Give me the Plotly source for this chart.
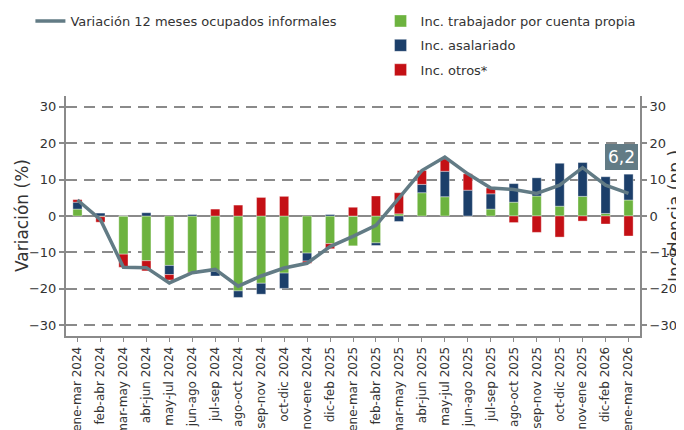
import plotly.graph_objects as go

categories = ["ene-mar 2024", "feb-abr 2024", "mar-may 2024", "abr-jun 2024", "may-jul 2024",
              "jun-ago 2024", "jul-sep 2024", "ago-oct 2024", "sep-nov 2024", "oct-dic 2024",
              "nov-ene 2024", "dic-feb 2025", "ene-mar 2025", "feb-abr 2025", "mar-may 2025",
              "abr-jun 2025", "may-jul 2025", "jun-ago 2025", "jul-sep 2025", "ago-oct 2025",
              "sep-nov 2025", "oct-dic 2025", "nov-ene 2025", "dic-feb 2026", "ene-mar 2026"]

variacion = [4.4, -1.0, -14.1, -14.2, -18.4, -15.6, -14.7, -19.3, -16.5, -14.3,
             -13.0, -8.4, -5.6, -2.6, 4.9, 12.5, 16.2, 11.6, 7.7, 7.3,
             6.2, 8.5, 13.3, 8.5, 6.2]
cuenta_propia = [1.9, -0.2, -10.5, -12.3, -13.6, -15.5, -15.2, -20.6, -18.5, -15.7,
                 -10.2, -7.6, -8.2, -7.4, 0.6, 6.4, 5.3, 0.0, 1.9, 3.8,
                 5.5, 2.7, 5.4, 0.7, 4.4]
asalariado = [1.9, 0.8, 0.0, 0.9, -2.5, 0.4, -1.3, -1.8, -3.0, -4.2,
              -2.2, 0.4, 0.0, -0.7, -1.5, 2.3, 7.0, 7.1, 4.2, 5.1,
              5.0, 11.8, 9.3, 10.1, 7.1]
otros = [0.7, -1.5, -3.6, -2.8, -1.5, -0.4, 1.9, 3.0, 5.1, 5.4,
         -0.6, -1.4, 2.4, 5.5, 5.8, 3.8, 3.4, 4.5, 1.6, -1.8,
         -4.5, -5.8, -1.4, -2.2, -5.5]
ticks = [-30, -20, -10, 0, 10, 20, 30]

FONT = "DejaVu Sans"
TXT = "#333333"
AX = "#8a8a8a"

fig = go.Figure()
bar_specs = [("Inc. trabajador por cuenta propia", cuenta_propia, "#6db33f"),
             ("Inc. asalariado", asalariado, "#1c3f6a"),
             ("Inc. otros*", otros, "#c41015")]
for i, (name, vals, col) in enumerate(bar_specs):
    fig.add_trace(go.Bar(x=categories, y=vals, name=name, marker_color=col,
                         marker_line_width=0.6, marker_line_color="rgba(255,255,255,0.6)",
                         width=0.4, legend="legend2", legendgroup=f"g{i}",
                         yaxis="y"))
fig.add_trace(go.Scatter(x=categories, y=variacion, name="Variación 12 meses ocupados informales",
                         mode="lines", line=dict(color="#627b85", width=3.5),
                         legend="legend", yaxis="y2"))

axis_common = dict(range=[-33, 33], tickvals=ticks, ticks="outside", ticklen=5,
                   tickwidth=1.5, tickcolor=AX, showline=True, linecolor=AX, linewidth=2,
                   automargin=False,
                   tickfont=dict(size=13, color=TXT, family=FONT))

# page body adds an 8px offset; figure sized to fill the rest of the window
W, H = 676, 422
L, R, T, B = 58, 44, 88, 94
PW = W - L - R

fig.update_layout(
    width=W, height=H,
    margin=dict(l=L, r=R, t=T, b=B, autoexpand=False),
    plot_bgcolor="white", paper_bgcolor="white",
    barmode="relative", bargap=0.5,
    font=dict(family=FONT, color=TXT, size=13),
    xaxis=dict(type="category", tickangle=-90, ticks="outside", ticklen=4, tickcolor=AX,
               showline=True, linecolor=AX, linewidth=2, automargin=False,
               tickfont=dict(size=12, color=TXT, family=FONT), range=[-0.5, 24.5]),
    yaxis=dict(**axis_common, showgrid=True, gridcolor=AX, gridwidth=2, griddash="11px,7px",
               zeroline=True, zerolinecolor=AX, zerolinewidth=2),
    yaxis2=dict(**axis_common, overlaying="y", side="right", showgrid=False, zeroline=False),
    legend=dict(x=-0.062, y=1.375, xanchor="left", yanchor="top", bgcolor="rgba(0,0,0,0)",
                font=dict(size=13, color=TXT, family=FONT)),
    legend2=dict(x=0.548, y=1.375, xanchor="left", yanchor="top", bgcolor="rgba(0,0,0,0)",
                 tracegroupgap=4.5, font=dict(size=13, color=TXT, family=FONT)),
    showlegend=True,
)

fig.add_annotation(x=categories[-1], y=variacion[-1], xref="x", yref="y2",
                   text=str(variacion[-1]).replace(".", ","), showarrow=False,
                   yshift=36, xshift=-7, bgcolor="#627b85", bordercolor="#627b85",
                   borderpad=2, font=dict(size=17, color="white", family=FONT))
fig.add_annotation(x=(14 - L) / PW, y=0.5, xref="paper", yref="paper", text="Variación (%)",
                   textangle=-90, showarrow=False, xanchor="center", yanchor="middle",
                   font=dict(size=17, color=TXT, family=FONT))
fig.add_annotation(x=(667 - L) / PW, y=0.5, xref="paper", yref="paper", text="Incidencia (pp.)",
                   textangle=-90, showarrow=False, xanchor="center", yanchor="middle",
                   font=dict(size=17, color=TXT, family=FONT))

fig.write_html("out.html")
